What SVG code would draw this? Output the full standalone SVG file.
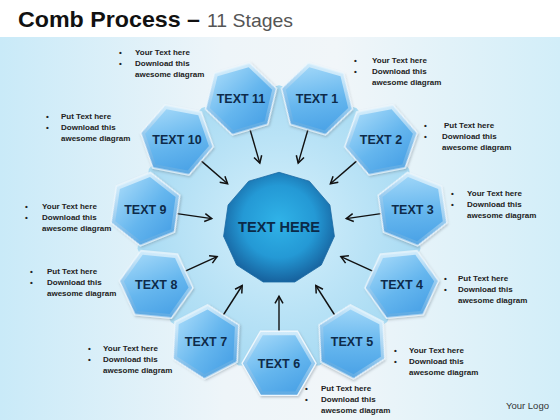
<svg xmlns="http://www.w3.org/2000/svg" xmlns:xlink="http://www.w3.org/1999/xlink" width="560" height="420" viewBox="0 0 560 420">
  <style>
    .title { font-family: "Liberation Sans", Arial, sans-serif; font-weight: bold; font-size: 22px; fill: #111; }
    .sub { font-family: "Liberation Sans", Arial, sans-serif; font-size: 19px; fill: #555; }
    .lbl { font-family: "Liberation Sans", Arial, sans-serif; font-weight: bold; font-size: 12.5px; fill: #0e2b4a; text-anchor: middle; }
    .ctr { font-family: "Liberation Sans", Arial, sans-serif; font-weight: bold; font-size: 15.5px; fill: #0b2a48; text-anchor: middle; }
    .note { font-family: "Liberation Sans", Arial, sans-serif; font-weight: bold; font-size: 8px; fill: #222; }
    .logo { font-family: "Liberation Sans", Arial, sans-serif; font-size: 9.5px; fill: #333; }
    .conn { stroke: #111; stroke-width: 1.4; fill: none; marker-end: url(#arr); }
  </style>
  <defs>
    <linearGradient id="bg" x1="0" y1="0" x2="1" y2="0">
      <stop offset="0" stop-color="#c9eaf8"/>
      <stop offset="0.4" stop-color="#eef5f9"/>
      <stop offset="0.6" stop-color="#f1f6f9"/>
      <stop offset="1" stop-color="#d2eef9"/>
    </linearGradient>
    <radialGradient id="back" cx="0.5" cy="0.5" r="0.5">
      <stop offset="0" stop-color="#d6f0fb"/>
      <stop offset="1" stop-color="#a9dbf3"/>
    </radialGradient>
    <linearGradient id="bevel" x1="0" y1="0" x2="0" y2="1">
      <stop offset="0" stop-color="#d2ecfb"/>
      <stop offset="1" stop-color="#5eaae3"/>
    </linearGradient>
    <linearGradient id="face" x1="0.2" y1="0" x2="0.8" y2="1">
      <stop offset="0" stop-color="#9fd6f8"/>
      <stop offset="0.55" stop-color="#65b6ee"/>
      <stop offset="1" stop-color="#4aa2e6"/>
    </linearGradient>
    <radialGradient id="core" cx="0.5" cy="0.45" r="0.55">
      <stop offset="0" stop-color="#30b3e8"/>
      <stop offset="0.6" stop-color="#2499d5"/>
      <stop offset="1" stop-color="#17639f"/>
    </radialGradient>
    <filter id="sh" x="-20%" y="-20%" width="140%" height="140%">
      <feDropShadow dx="1" dy="1.5" stdDeviation="1.2" flood-color="#5a6b78" flood-opacity="0.35"/>
    </filter>
    <marker id="arr" markerWidth="10" markerHeight="10" refX="8" refY="5" orient="auto" markerUnits="userSpaceOnUse">
      <path d="M1,1 L8,5 L1,9" fill="none" stroke="#111" stroke-width="1.5"/>
    </marker>
    <g id="hex">
      <polygon points="37,0 18.5,32.04 -18.5,32.04 -37,0 -18.5,-32.04 18.5,-32.04" fill="url(#bevel)" stroke="#eef7fd" stroke-width="1.3" filter="url(#sh)"/>
      <polygon points="32.5,0 16.25,28.15 -16.25,28.15 -32.5,0 -16.25,-28.15 16.25,-28.15" fill="url(#face)"/>
    </g>
  </defs>

  <rect x="0" y="0" width="560" height="420" fill="#ffffff"/>
  <rect x="0" y="37" width="560" height="383" fill="url(#bg)"/>

  <g id="title">
    <text class="title" x="18" y="27" textLength="182" lengthAdjust="spacingAndGlyphs">Comb Process –</text>
    <text class="sub" x="207" y="27" textLength="86" lengthAdjust="spacingAndGlyphs">11 Stages</text>
  </g>

  <g id="backdrop">
    <polygon points="279,85.3 356.3,108 409.1,168.9 420.5,248.7 387.1,321.9 319.3,365.5 238.7,365.5 170.9,321.9 137.5,248.7 148.9,168.9 201.7,108" fill="url(#back)"/>
  </g>

  <g id="connectors">
    <line class="conn" x1="308.0" y1="129.5" x2="298.2" y2="163.1"/>
    <line class="conn" x1="356.8" y1="160.9" x2="330.4" y2="183.8"/>
    <line class="conn" x1="381.0" y1="213.6" x2="346.3" y2="218.6"/>
    <line class="conn" x1="372.7" y1="271.1" x2="340.9" y2="256.6"/>
    <line class="conn" x1="334.7" y1="315.0" x2="315.8" y2="285.5"/>
    <line class="conn" x1="279" y1="331.3" x2="279" y2="296.3"/>
    <line class="conn" x1="223.3" y1="315.0" x2="242.2" y2="285.5"/>
    <line class="conn" x1="185.3" y1="271.1" x2="217.1" y2="256.6"/>
    <line class="conn" x1="177.0" y1="213.6" x2="211.7" y2="218.6"/>
    <line class="conn" x1="201.2" y1="160.9" x2="227.6" y2="183.8"/>
    <line class="conn" x1="250.0" y1="129.5" x2="259.8" y2="163.1"/>
  </g>

  <g id="center">
    <polygon points="279,172.3 309.3,181.2 329.9,205 334.4,236.3 321.3,265 294.8,282 263.2,282 236.7,265 223.6,236.3 228.1,205 248.7,181.2" fill="url(#core)" stroke="#1a6aa3" stroke-width="0.8"/>
    <text class="ctr" x="279" y="231.5" textLength="82" lengthAdjust="spacingAndGlyphs">TEXT HERE</text>
  </g>

  <g id="node1"><use xlink:href="#hex" transform="translate(317,98.8) rotate(16.36)"/><text class="lbl" x="317" y="103.3">TEXT 1</text></g>
  <g id="node2"><use xlink:href="#hex" transform="translate(381,139.9) rotate(-10.91)"/><text class="lbl" x="381" y="144.4">TEXT 2</text></g>
  <g id="node3"><use xlink:href="#hex" transform="translate(412.6,209.1) rotate(21.82)"/><text class="lbl" x="412.6" y="213.6">TEXT 3</text></g>
  <g id="node4"><use xlink:href="#hex" transform="translate(401.8,284.4) rotate(-5.45)"/><text class="lbl" x="401.8" y="288.9">TEXT 4</text></g>
  <g id="node5"><use xlink:href="#hex" transform="translate(352,341.9) rotate(27.27)"/><text class="lbl" x="352" y="346.4">TEXT 5</text></g>
  <g id="node6"><use xlink:href="#hex" transform="translate(279,363.3)"/><text class="lbl" x="279" y="367.8">TEXT 6</text></g>
  <g id="node7"><use xlink:href="#hex" transform="translate(206,341.9) rotate(-27.27)"/><text class="lbl" x="206" y="346.4">TEXT 7</text></g>
  <g id="node8"><use xlink:href="#hex" transform="translate(156.2,284.4) rotate(5.45)"/><text class="lbl" x="156.2" y="288.9">TEXT 8</text></g>
  <g id="node9"><use xlink:href="#hex" transform="translate(145.4,209.1) rotate(-21.82)"/><text class="lbl" x="145.4" y="213.6">TEXT 9</text></g>
  <g id="node10"><use xlink:href="#hex" transform="translate(177,139.9) rotate(10.91)"/><text class="lbl" x="177" y="144.4">TEXT 10</text></g>
  <g id="node11"><use xlink:href="#hex" transform="translate(241,98.8) rotate(-16.36)"/><text class="lbl" x="241" y="103.3">TEXT 11</text></g>

  <g id="notes">
    <g id="note11"><text class="note" x="119" y="55">•</text><text class="note" x="119" y="66">•</text>
      <text class="note" x="135" y="55">Your Text here</text><text class="note" x="135" y="66">Download this</text><text class="note" x="135" y="77">awesome diagram</text></g>
    <g id="note1"><text class="note" x="354" y="63">•</text><text class="note" x="354" y="74">•</text>
      <text class="note" x="372" y="63">Your Text here</text><text class="note" x="372" y="74">Download this</text><text class="note" x="372" y="85">awesome diagram</text></g>
    <g id="note2"><text class="note" x="424" y="128">•</text><text class="note" x="424" y="139">•</text>
      <text class="note" x="444" y="128">Put Text here</text><text class="note" x="442" y="139">Download this</text><text class="note" x="442" y="150">awesome diagram</text></g>
    <g id="note3"><text class="note" x="451" y="196">•</text><text class="note" x="451" y="207">•</text>
      <text class="note" x="467" y="196">Your Text here</text><text class="note" x="467" y="207">Download this</text><text class="note" x="467" y="218">awesome diagram</text></g>
    <g id="note4"><text class="note" x="444" y="281">•</text><text class="note" x="444" y="292">•</text>
      <text class="note" x="458" y="281">Put Text here</text><text class="note" x="458" y="292">Download this</text><text class="note" x="458" y="303">awesome diagram</text></g>
    <g id="note5"><text class="note" x="394" y="353">•</text><text class="note" x="394" y="364">•</text>
      <text class="note" x="409" y="353">Your Text here</text><text class="note" x="409" y="364">Download this</text><text class="note" x="409" y="375">awesome diagram</text></g>
    <g id="note6"><text class="note" x="305" y="391">•</text><text class="note" x="305" y="402">•</text>
      <text class="note" x="321" y="391">Put Text here</text><text class="note" x="321" y="402">Download this</text><text class="note" x="321" y="413">awesome diagram</text></g>
    <g id="note7"><text class="note" x="88" y="351">•</text><text class="note" x="88" y="362">•</text>
      <text class="note" x="103" y="351">Your Text here</text><text class="note" x="103" y="362">Download this</text><text class="note" x="103" y="373">awesome diagram</text></g>
    <g id="note8"><text class="note" x="30" y="274">•</text><text class="note" x="30" y="285">•</text>
      <text class="note" x="47" y="274">Put Text here</text><text class="note" x="47" y="285">Download this</text><text class="note" x="47" y="296">awesome diagram</text></g>
    <g id="note9"><text class="note" x="25" y="209">•</text><text class="note" x="25" y="220">•</text>
      <text class="note" x="42" y="209">Your Text here</text><text class="note" x="42" y="220">Download this</text><text class="note" x="42" y="231">awesome diagram</text></g>
    <g id="note10"><text class="note" x="46" y="119">•</text><text class="note" x="46" y="130">•</text>
      <text class="note" x="61" y="119">Put Text here</text><text class="note" x="61" y="130">Download this</text><text class="note" x="61" y="141">awesome diagram</text></g>
  </g>

  <text class="logo" x="506" y="409">Your Logo</text>
</svg>
